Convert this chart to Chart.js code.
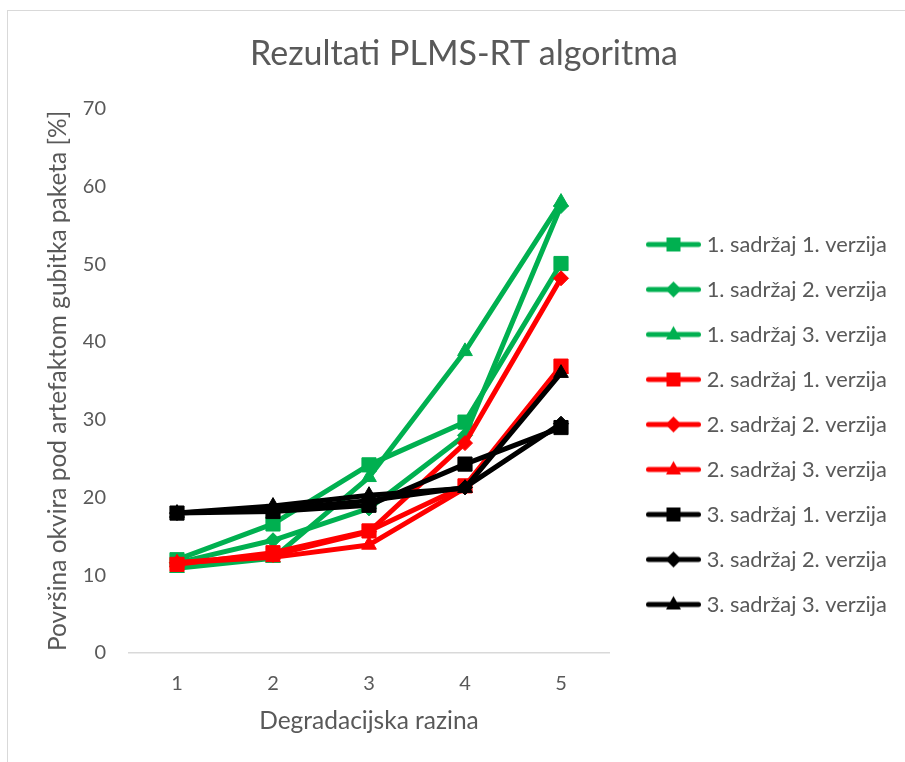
<!DOCTYPE html>
<html>
<head>
<meta charset="utf-8">
<script src="https://cdn.jsdelivr.net/npm/chart.js@4.4.1/dist/chart.umd.min.js"></script>
<style>
  html, body { margin: 0; padding: 0; background: #fff; }
  #wrap { position: relative; width: 905px; height: 762px; overflow: hidden; }
  #frame { position: absolute; left: 7px; top: 10px; width: 940px; height: 800px; border: 1px solid #d9d9d9; }
  #c { position: absolute; left: 0; top: 0; }
</style>
</head>
<body>
<div id="wrap"><div id="frame"></div><canvas id="c" width="905" height="762"></canvas></div>
<script>
// values
const categories = ['1', '2', '3', '4', '5'];
const yTicks = [0, 10, 20, 30, 40, 50, 60, 70];
const seriesNames = [
  '1. sadržaj 1. verzija', '1. sadržaj 2. verzija', '1. sadržaj 3. verzija',
  '2. sadržaj 1. verzija', '2. sadržaj 2. verzija', '2. sadržaj 3. verzija',
  '3. sadržaj 1. verzija', '3. sadržaj 2. verzija', '3. sadržaj 3. verzija'
];
const s1v1 = [12.0, 16.6, 24.2, 29.7, 50.1];
const s1v2 = [11.6, 14.5, 18.6, 28.0, 57.5];
const s1v3 = [10.9, 12.2, 22.6, 38.8, 58.0];
const s2v1 = [11.4, 12.9, 15.7, 21.5, 36.9];
const s2v2 = [11.6, 12.6, 15.6, 27.0, 48.2];
const s2v3 = [11.6, 12.3, 13.9, 21.2, 36.5];
const s3v1 = [18.0, 18.2, 19.0, 24.3, 29.0];
const s3v2 = [18.0, 18.5, 19.6, 21.3, 29.5];
const s3v3 = [18.0, 18.9, 20.3, 21.2, 36.0];

const seriesValues = [s1v1, s1v2, s1v3, s2v1, s2v2, s2v3, s3v1, s3v2, s3v3];
const seriesColors = ['#00b050', '#00b050', '#00b050', '#ff0000', '#ff0000', '#ff0000', '#000000', '#000000', '#000000'];
const seriesMarkers = ['rect', 'rectRot', 'triangle', 'rect', 'rectRot', 'triangle', 'rect', 'rectRot', 'triangle'];
const markerSize = { rect: 10, rectRot: 7.5, triangle: 8.5 };

const FONT = 'Lato';
const TEXT = '#595959';
const legendFont = 21.8;
const legendPad = 23.2;
const legendBox = 63.6;
const axisTitleFont = 24.5;

// small picture of line + marker for each legend entry
function legendSample(color, marker) {
  const c = document.createElement('canvas');
  c.width = 74; c.height = 24;
  const g = c.getContext('2d');
  g.strokeStyle = color; g.fillStyle = color;
  g.lineWidth = 5; g.lineCap = 'round';
  g.beginPath(); g.moveTo(21.5, 12); g.lineTo(71.5, 12); g.stroke();
  const cx = 46.5, cy = 12;
  g.beginPath();
  if (marker === 'rect') {
    g.rect(cx - 7, cy - 7, 14, 14);
  } else if (marker === 'rectRot') {
    g.moveTo(cx, cy - 8); g.lineTo(cx + 8, cy); g.lineTo(cx, cy + 8); g.lineTo(cx - 8, cy);
  } else {
    g.moveTo(cx, cy - 8.5); g.lineTo(cx + 7.5, cy + 5); g.lineTo(cx - 7.5, cy + 5);
  }
  g.closePath(); g.fill();
  return c;
}
const samples = seriesColors.map((col, i) => legendSample(col, seriesMarkers[i]));

// paddings so the plot spans x 129..609 and the title sits centred at x 464
const meas = document.createElement('canvas').getContext('2d');
meas.font = legendFont + 'px ' + FONT;
const textW = Math.max(...seriesNames.map(t => meas.measureText(t).width));
const legendW = legendPad + legendBox + legendFont / 2 + textW + 10;
const padRight = Math.max(0, 905 - 609 - legendW);
const padLeft = padRight + 23;
const yTitlePad = Math.max(0, 58 - axisTitleFont * 1.2 / 2 - padLeft);

const datasets = seriesNames.map((name, i) => ({
  label: name,
  data: seriesValues[i],
  borderColor: seriesColors[i],
  backgroundColor: seriesColors[i],
  borderWidth: 5,
  borderJoinStyle: 'round',
  pointStyle: seriesMarkers[i],
  pointRadius: markerSize[seriesMarkers[i]],
  pointBorderWidth: 1,
  pointBackgroundColor: seriesColors[i],
  pointBorderColor: seriesColors[i],
  order: seriesNames.length - i
}));

new Chart(document.getElementById('c'), {
  type: 'line',
  data: { labels: categories, datasets: datasets },
  options: {
    responsive: false,
    animation: false,
    layout: { padding: { top: 0, left: padLeft, bottom: 0, right: padRight } },
    plugins: {
      title: {
        display: true,
        text: 'Rezultati PLMS-RT algoritma',
        color: TEXT,
        font: { family: FONT, size: 34, weight: 'normal' },
        padding: { top: 34, bottom: 34 }
      },
      legend: {
        position: 'right',
        align: 'start',
        maxWidth: 320,
        title: { display: true, text: '', font: { size: 12 }, padding: { top: 196, bottom: 0 } },
        labels: {
          usePointStyle: true,
          pointStyleWidth: legendBox,
          padding: legendPad,
          color: TEXT,
          font: { family: FONT, size: legendFont },
          generateLabels: chart => chart.data.datasets.map((ds, i) => ({
            text: ds.label,
            pointStyle: samples[i],
            fillStyle: ds.borderColor,
            strokeStyle: ds.borderColor,
            lineWidth: 0,
            fontColor: TEXT,
            hidden: false,
            datasetIndex: i
          }))
        }
      },
      tooltip: { enabled: false }
    },
    scales: {
      x: {
        offset: true,
        grid: { display: false, drawTicks: false },
        border: { display: true, color: '#d9d9d9', width: 1.5 },
        ticks: { color: TEXT, padding: 19, font: { family: FONT, size: 20 } },
        title: {
          display: true,
          text: 'Degradacijska razina',
          color: TEXT,
          font: { family: FONT, size: axisTitleFont },
          padding: { top: 0, bottom: 26 }
        },
        afterFit: s => { s.height = 109; }
      },
      y: {
        min: 0,
        max: 70,
        afterBuildTicks: s => { s.ticks = yTicks.map(v => ({ value: v })); },
        grid: { display: false, drawTicks: false },
        border: { display: false },
        ticks: { color: TEXT, padding: 23, font: { family: FONT, size: 20 } },
        title: {
          display: true,
          text: 'Površina okvira pod artefaktom gubitka paketa [%]',
          color: TEXT,
          font: { family: FONT, size: axisTitleFont },
          padding: { top: yTitlePad, bottom: 0 }
        },
        afterFit: s => { s.width = 129 - padLeft; }
      }
    }
  }
});
</script>
</body>
</html>
